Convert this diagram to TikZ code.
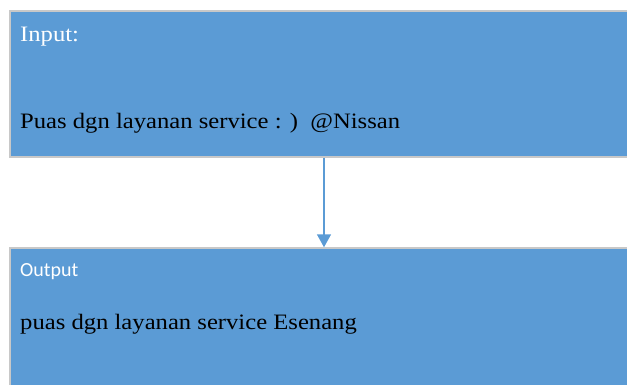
\documentclass[tikz,border=0pt]{standalone}
\usepackage{graphicx}
\usepackage{fontspec}
\setmainfont{Liberation Serif}
\newfontfamily\carlito{Carlito}
\usetikzlibrary{arrows.meta}
\definecolor{boxblue}{HTML}{5B9BD5}
\definecolor{boxedge}{HTML}{C8C8C8}
\newcommand{\widen}[1]{\scalebox{1.12}[1]{#1}}
\tikzset{
  panel/.style={draw=boxedge, line width=1.5pt, fill=boxblue, inner sep=0pt, minimum width=628pt},
  serif/.style={anchor=base west, inner sep=0pt, font=\fontsize{22}{24}\selectfont},
  label/.style={anchor=base west, inner sep=0pt, text=white},
  flow/.style={draw=boxblue, line width=1.6pt, -{Triangle[width=14pt,length=13pt]}}
}
\begin{document}
\begin{tikzpicture}[x=1pt,y=-1pt]
\useasboundingbox (0,0) rectangle (627,385);
\clip (0,0) rectangle (627,385);
\node[panel, minimum height=146pt] (inbox) at (324,84) {};
\node[panel, minimum height=152pt] (outbox) at (324,324) {};
\node[label, serif] (intitle) at (20,42) {\widen{Input:}};
\node[serif] (intext) at (20,129) {\widen{Puas dgn layanan service : )\ \ @Nissan}};
\node[label, font=\carlito\fontsize{20}{22}\selectfont] (outtitle) at (20,276) {Output};
\node[serif] (outtext) at (20,329) {\widen{puas dgn layanan service Esenang}};
\draw[flow] (inbox.south) -- (outbox.north);
\end{tikzpicture}
\end{document}
